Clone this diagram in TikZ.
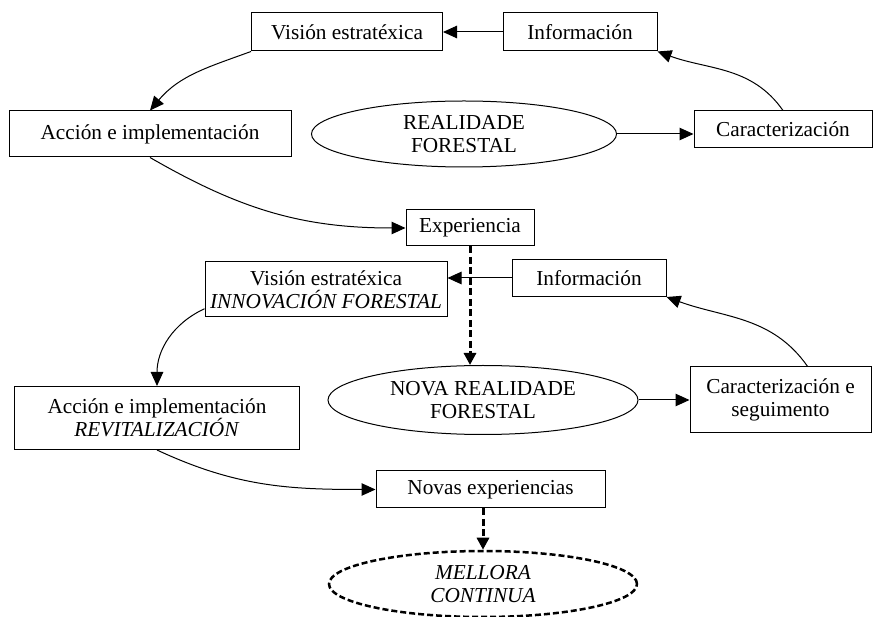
\documentclass[tikz,border=0pt]{standalone}
\usepackage{fontspec}
\setmainfont{Liberation Serif}
\usetikzlibrary{arrows.meta, shapes.geometric}

\begin{document}
\begin{tikzpicture}[x=1pt, y=1pt,
    every node/.style={font=\fontsize{21.3}{23}\selectfont, align=center},
    box/.style={draw, line width=1pt, inner sep=0pt},
    oval/.style={draw, ellipse, line width=1pt, inner sep=0pt},
    link/.style={line width=1pt, -{Triangle[length=14pt, width=12.5pt]}},
    dashlink/.style={link, line width=3pt, dash pattern=on 7pt off 3.5pt,
        -{Triangle[length=12pt, width=12pt]}}
]

    % --- Frame (reference size in px, y downwards as negative) ---
    \useasboundingbox (0,-617) rectangle (879,0);

    % --- First cycle ---
    \node[box, minimum width=191pt, minimum height=38pt] (vis1) at (347,-32) {Visión estratéxica};
    \node[box, minimum width=154pt, minimum height=38pt] (inf1) at (580,-32) {Información};
    \node[box, minimum width=282pt, minimum height=46pt] (acc1) at (150,-134) {Acción e implementación};
    \node[oval, minimum width=305pt, minimum height=66pt] (real1) at (464,-134) {REALIDADE\\FORESTAL};
    \node[box, minimum width=178pt, minimum height=37pt] (car1) at (783,-129.5) {Caracterización};
    \node[box, minimum width=128pt, minimum height=36pt] (exp) at (470,-228) {Experiencia};

    % --- Second cycle ---
    \node[box, minimum width=242pt, minimum height=55pt] (vis2) at (326,-289.5) {Visión estratéxica\\\textit{INNOVACIÓN FORESTAL}};
    \node[box, minimum width=154pt, minimum height=37pt] (inf2) at (589,-278) {Información};
    \node[box, minimum width=285pt, minimum height=63pt] (acc2) at (157,-418) {Acción e implementación\\\textit{REVITALIZACIÓN}};
    \node[oval, minimum width=310pt, minimum height=69pt] (real2) at (483,-400) {NOVA REALIDADE\\FORESTAL};
    \node[box, minimum width=181pt, minimum height=66pt] (car2) at (780.5,-400) {Caracterización e\\seguimento};
    \node[box, minimum width=229pt, minimum height=37pt] (nov) at (490.5,-489.5) {Novas experiencias};
    \node[oval, dash pattern=on 6pt off 3pt, line width=2.5pt, minimum width=308pt, minimum height=66pt] (mel) at (483,-584) {\textit{MELLORA}\\\textit{CONTINUA}};

    % --- Connectors, first cycle ---
    \draw[link] (inf1.west) -- (vis1.east);
    \draw[link] (vis1.south west) to[out=200, in=50] (acc1.north);
    \draw[link] (real1.east) -- (real1.east -| car1.west);
    \draw[link] (car1.north) to[out=125, in=-20] (inf1.south east);
    \draw[link] (acc1.south) to[out=-30, in=180] (exp.west);
    \draw[dashlink] (exp.south) -- (exp.south |- real2.north);

    % --- Connectors, second cycle ---
    \draw[link] (inf2.west) -- (inf2.west -| vis2.east);
    \draw[link] (vis2.189) to[out=205, in=90] (acc2.north);
    \draw[link] (real2.east) -- (real2.east -| car2.west);
    \draw[link] (car2.51) to[out=125, in=-20] (inf2.south east);
    \draw[link] (acc2.south) to[out=-25, in=180] (nov.west);
    \draw[dashlink] (mel.north |- nov.south) -- (mel.north);

\end{tikzpicture}
\end{document}
